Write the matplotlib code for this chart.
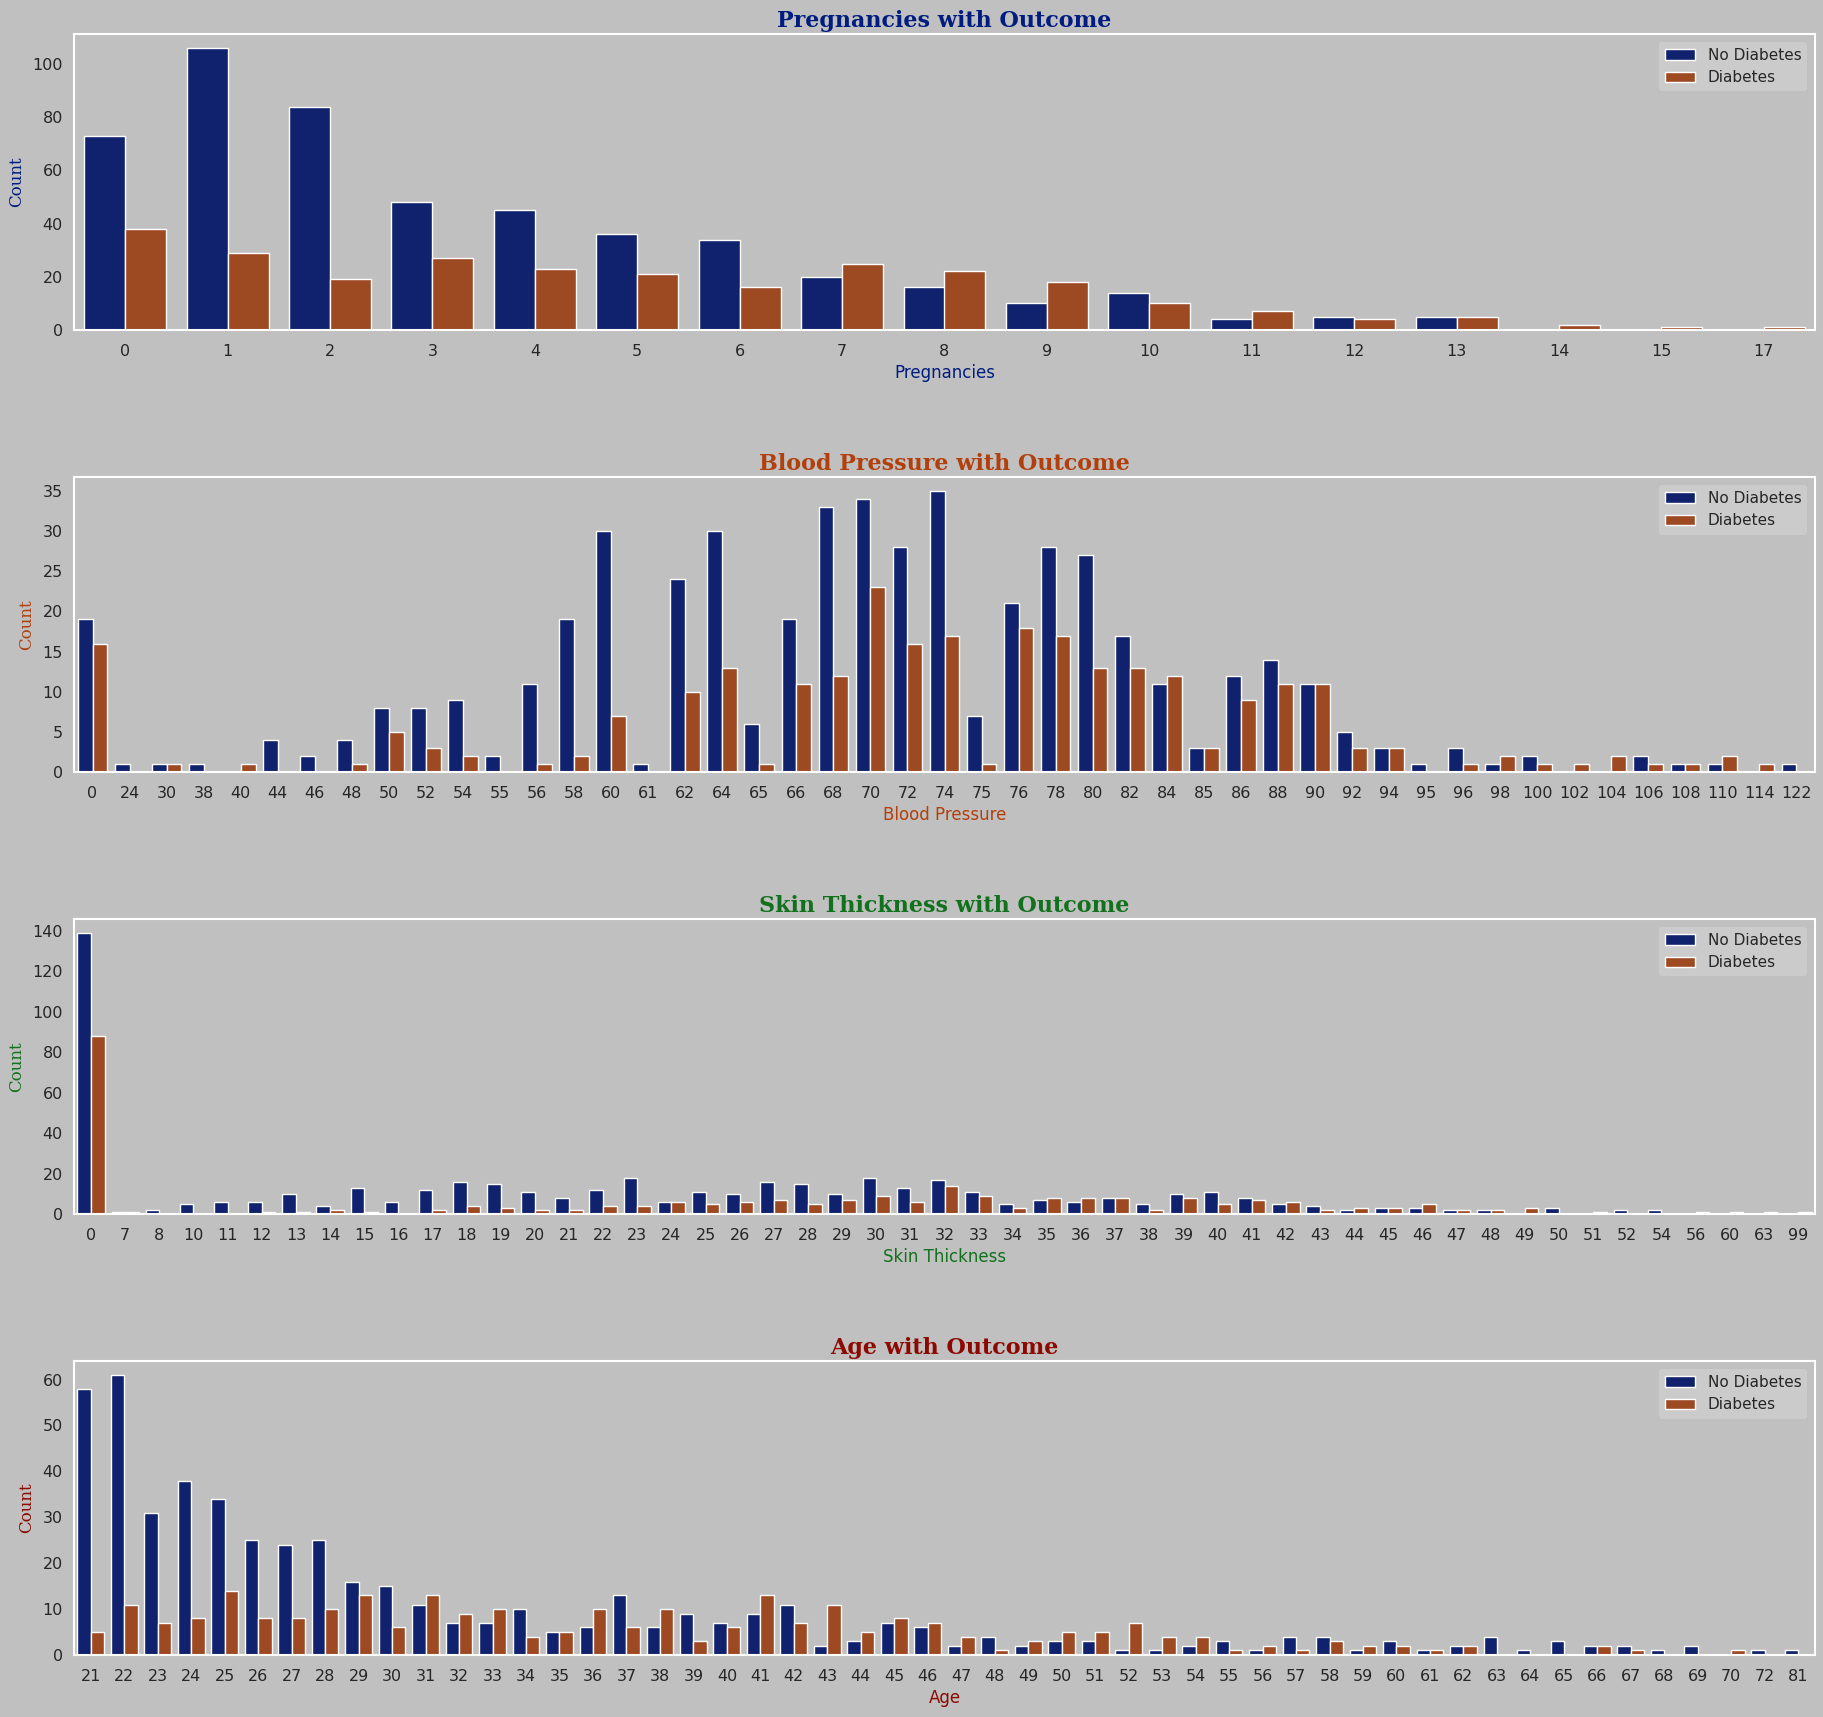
import numpy as np
import matplotlib
matplotlib.use("Agg")
import matplotlib.pyplot as plt

# ---------------- data ----------------
preg_cats = ["0","1","2","3","4","5","6","7","8","9","10","11","12","13","14","15","17"]
preg_no   = [73,106,84,48,45,36,34,20,16,10,14,4,5,5,0,0,0]
preg_yes  = [38,29,19,27,23,21,16,25,22,18,10,7,4,5,2,1,1]

bp_cats = ["0","24","30","38","40","44","46","48","50","52","54","55","56","58","60","61","62","64","65",
           "66","68","70","72","74","75","76","78","80","82","84","85","86","88","90","92","94","95","96",
           "98","100","102","104","106","108","110","114","122"]
bp_no   = [19,1,1,1,0,4,2,4,8,8,9,2,11,19,30,1,24,30,6,19,33,34,28,35,7,21,28,27,17,11,3,12,14,11,5,3,1,3,
           1,2,0,0,2,1,1,0,1]
bp_yes  = [16,0,1,0,1,0,0,1,5,3,2,0,1,2,7,0,10,13,1,11,12,23,16,17,1,18,17,13,13,12,3,9,11,11,3,3,0,1,
           2,1,1,2,1,1,2,1,0]

skin_cats = ["0","7","8","10","11","12","13","14","15","16","17","18","19","20","21","22","23","24","25",
             "26","27","28","29","30","31","32","33","34","35","36","37","38","39","40","41","42","43","44",
             "45","46","47","48","49","50","51","52","54","56","60","63","99"]
skin_no   = [139,1,2,5,6,6,10,4,13,6,12,16,15,11,8,12,18,6,11,10,16,15,10,18,13,17,11,5,7,6,8,5,10,11,8,5,
             4,2,3,3,2,2,0,3,0,2,2,0,0,0,0]
skin_yes  = [88,1,0,0,0,1,1,2,1,0,2,4,3,2,2,4,4,6,5,6,7,5,7,9,6,14,9,3,8,8,8,2,8,5,7,6,2,3,3,5,2,2,3,0,
             1,0,0,1,1,1,1]

age_cats = ["21","22","23","24","25","26","27","28","29","30","31","32","33","34","35","36","37","38","39",
            "40","41","42","43","44","45","46","47","48","49","50","51","52","53","54","55","56","57","58",
            "59","60","61","62","63","64","65","66","67","68","69","70","72","81"]
age_no   = [58,61,31,38,34,25,24,25,16,15,11,7,7,10,5,6,13,6,9,7,9,11,2,3,7,6,2,4,2,3,3,1,1,2,3,1,4,4,
            1,3,1,2,4,1,3,2,2,1,2,0,1,1]
age_yes  = [5,11,7,8,14,8,8,10,13,6,13,9,10,4,5,10,6,10,3,6,13,7,11,5,8,7,4,1,3,5,5,7,4,4,1,2,1,3,
            2,2,1,2,0,0,0,2,1,0,0,1,0,0]

legend_labels = ["No Diabetes", "Diabetes"]
titles = ["Pregnancies with Outcome", "Blood Pressure with Outcome",
          "Skin Thickness with Outcome", "Age with Outcome"]
xlabels = ["Pregnancies", "Blood Pressure", "Skin Thickness", "Age"]

# ---------------- style ----------------
BG = "#c0c0c0"
C_NO = "#10226d"
C_YES = "#9d4922"
title_colors = ["#001c7f", "#b1400d", "#12711c", "#8c0800"]

W, H = 1824, 1717
fig = plt.figure(figsize=(W / 100, H / 100), dpi=100, facecolor=BG)

# axes boxes in pixels: (left, top, bottom)
boxes = [(74, 34, 330), (74, 477, 772), (74, 919, 1214), (74, 1361, 1655)]
right = 1815

datasets = [(preg_cats, preg_no, preg_yes), (bp_cats, bp_no, bp_yes),
            (skin_cats, skin_no, skin_yes), (age_cats, age_no, age_yes)]

for i, ((cats, no, yes), (l, t, b)) in enumerate(zip(datasets, boxes)):
    ax = fig.add_axes([l / W, 1 - b / H, (right - l) / W, (b - t) / H])
    ax.set_facecolor(BG)
    x = np.arange(len(cats))
    ax.bar(x - 0.2, no, width=0.4, color=C_NO, edgecolor="white", linewidth=1.0, label=legend_labels[0])
    ax.bar(x + 0.2, yes, width=0.4, color=C_YES, edgecolor="white", linewidth=1.0, label=legend_labels[1])
    ax.set_xticks(x)
    ax.set_xticklabels(cats)
    ax.set_xlim(-0.5, len(cats) - 0.5)
    ax.set_ylim(0, max(max(no), max(yes)) * 1.05)
    ax.tick_params(axis="x", length=0, labelsize=11.5, colors="#262626", pad=10)
    ax.tick_params(axis="y", length=0, labelsize=11.5, colors="#262626", pad=8)
    for s in ax.spines.values():
        s.set_color("white")
        s.set_linewidth(1.5)
    ax.set_title(titles[i], family="DejaVu Serif", fontweight="bold", fontsize=16,
                 color=title_colors[i], pad=5)
    ax.set_xlabel(xlabels[i], fontsize=12, color=title_colors[i], labelpad=4)
    ax.set_ylabel("Count", family="DejaVu Serif", fontsize=12, color=title_colors[i], labelpad=5)
    leg = ax.legend(loc="upper right", fontsize=11, frameon=True, facecolor="#cbcbcb",
                    edgecolor="none", framealpha=1.0)
    for txt in leg.get_texts():
        txt.set_color("#262626")
    ax.grid(False)

fig.savefig("out.png", dpi=100, facecolor=BG)
